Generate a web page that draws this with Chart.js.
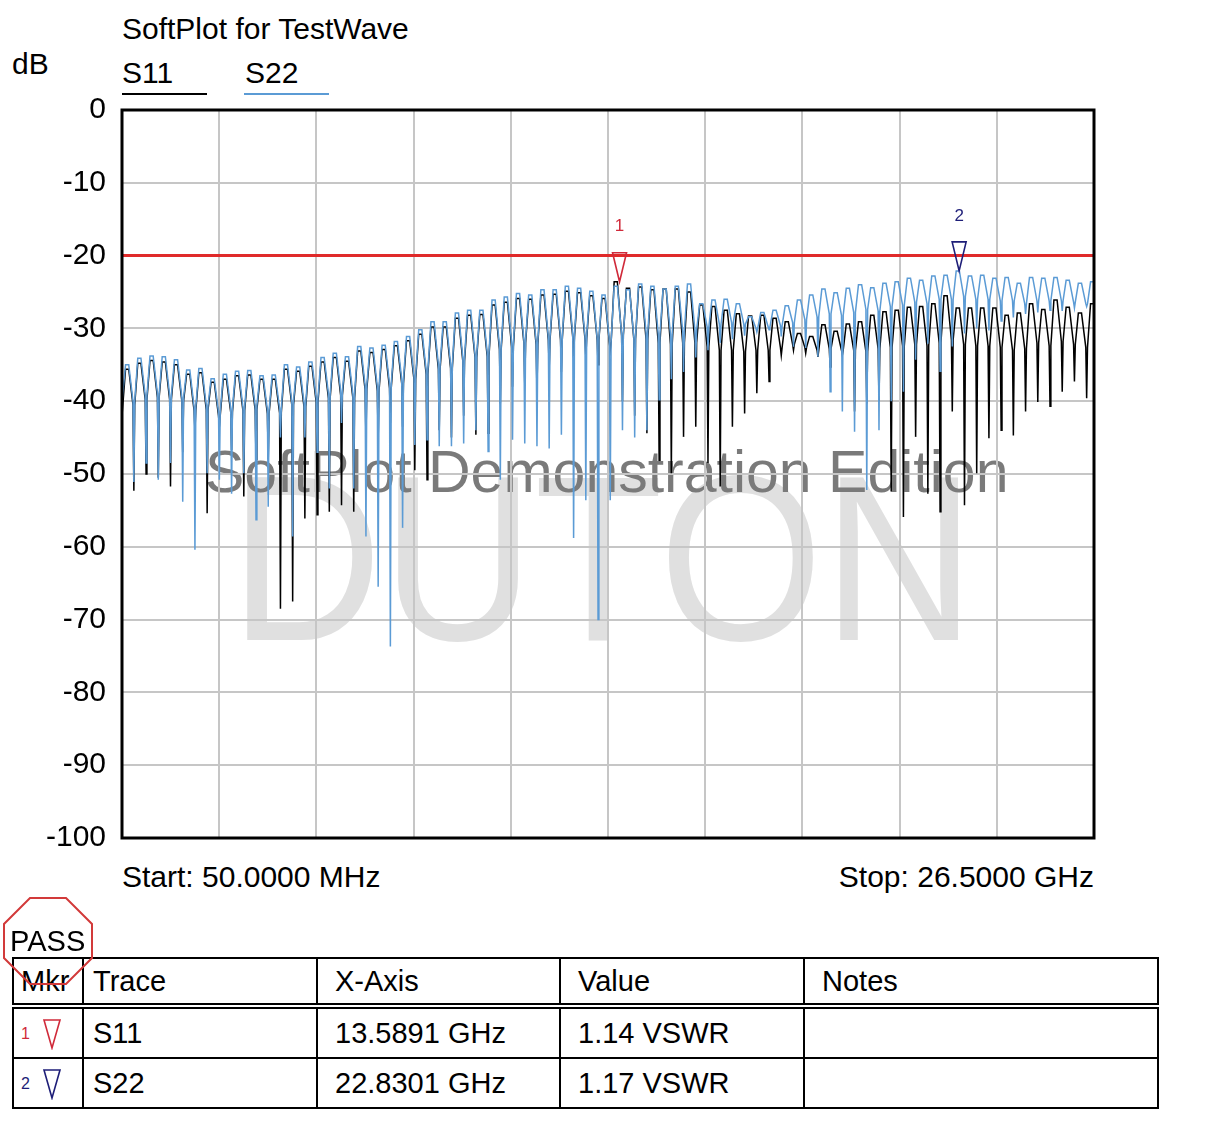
<!DOCTYPE html>
<html>
<head>
<meta charset="utf-8">
<title>SoftPlot for TestWave</title>
<script src="https://cdn.jsdelivr.net/npm/chart.js@4.4.1/dist/chart.umd.min.js"></script>
<style>
  body { margin: 0; background: #fff; font-family: "Liberation Sans", Arial, sans-serif; color: #000; }
  #page { position: relative; width: 1213px; height: 1138px; overflow: hidden; }
  .txt { position: absolute; white-space: nowrap; line-height: 1; font-size: 30px; }
  .wm { position: absolute; white-space: nowrap; line-height: 1; z-index: 0; }
  #chartBox { position: absolute; left: 0; top: 0; width: 1213px; height: 900px; z-index: 1; }
  .uline { position: absolute; height: 2px; }
  #mkrTable { position: absolute; left: 12px; top: 957px; border-collapse: collapse; table-layout: fixed;
              font-size: 29px; z-index: 2; }
  #mkrTable td, #mkrTable th { border: 2px solid #000; font-weight: normal; text-align: left;
              vertical-align: middle; padding: 0 0 0 17px; white-space: nowrap; }
  #mkrTable th { height: 44px; border-bottom: 6px double #000; }
  #mkrTable td { height: 48px; }
  #mkrTable .c0 { padding-left: 7px; }
  #mkrTable .c1 { padding-left: 9px; }
  .mnum { font-size: 16px; vertical-align: middle; }
</style>
</head>
<body>
<div id="page">
  <div class="txt" style="left:122px; top:14px;">SoftPlot for TestWave</div>
  <div class="txt" style="left:12px; top:49px;">dB</div>
  <div class="txt" style="left:122px; top:58px;">S11</div>
  <div class="uline" style="left:122px; top:93px; width:85px; background:#000;"></div>
  <div class="txt" style="left:245px; top:58px;">S22</div>
  <div class="uline" style="left:244px; top:93px; width:85px; background:#5b9bd5;"></div>

  <!-- watermarks sit behind the transparent chart canvas -->
  <div class="wm" id="duton" style="left:230px; top:440px; font-size:236px; color:#e0e0e0;">DUTON</div>
  <div class="wm" style="left:205px; top:443px; font-size:59px; color:#7a7a7a;">SoftPlot Demonstration Edition</div>

  <div id="chartBox"><canvas id="Chart" width="1213" height="900"></canvas></div>

  <div class="txt" style="left:122px; top:862px;">Start: 50.0000 MHz</div>
  <div class="txt" style="right:119px; top:862px;">Stop: 26.5000 GHz</div>

  <svg style="position:absolute; left:0; top:893px; z-index:3;" width="100" height="100">
    <polygon points="30,5 66,5 92,31 92,65 66,91 30,91 4,65 4,31" fill="none" stroke="#d23a3a" stroke-width="2"/>
  </svg>
  <div class="txt" style="left:10px; top:927px; font-size:29px; z-index:4;">PASS</div>

  <table id="mkrTable">
    <colgroup><col style="width:70px"><col style="width:234px"><col style="width:243px"><col style="width:244px"><col style="width:354px"></colgroup>
    <tr><th class="c0">Mkr</th><th class="c1">Trace</th><th>X-Axis</th><th>Value</th><th>Notes</th></tr>
    <tr><td class="c0"><span class="mnum" style="color:#d02a3a;">1</span>
        <svg width="20" height="32" style="vertical-align:middle; margin-left:4px;"><polygon points="2,2 18,2 10,30" fill="none" stroke="#d02a3a" stroke-width="1.6"/></svg></td>
        <td class="c1">S11</td><td>13.5891 GHz</td><td>1.14 VSWR</td><td></td></tr>
    <tr><td class="c0"><span class="mnum" style="color:#1e1e78;">2</span>
        <svg width="20" height="32" style="vertical-align:middle; margin-left:4px;"><polygon points="2,2 18,2 10,30" fill="none" stroke="#1e1e78" stroke-width="1.6"/></svg></td>
        <td class="c1">S22</td><td>22.8301 GHz</td><td>1.17 VSWR</td><td></td></tr>
  </table>
</div>

<script>
/* sweep and axis */
const xStartGHz = 0.05;
const xStopGHz = 26.5;
const yMin = -100;
const yMax = 0;
const yStep = 10;
const limitDb = -20;

/* ripple: position of the first peak and the ripple period */
const firstPeakGHz = 0.19;
const cycleGHz = 0.3324;

/* S11 (black) per ripple cycle: peak, hump bottom, notch bottom (dB) */
const s11Start = -42;
const s11Peak = [
  -35.6, -34.8, -34.4, -34.6, -35.0, -36.3, -36.1, -37.4, -37.0, -36.5,
  -36.4, -37.0, -37.0, -35.6, -35.9, -35.2, -34.6, -34.0, -34.5, -33.1,
  -33.3, -32.9, -32.4, -31.7, -30.8, -29.8, -29.8, -28.6, -28.2, -28.1,
  -26.8, -26.4, -25.9, -26.0, -25.4, -25.3, -24.9, -25.1, -25.5, -25.9,
  -23.6, -24.5, -24.3, -24.7, -24.6, -24.6, -25.0, -26.8, -27.0, -27.5,
  -28.0, -28.3, -28.2, -28.6, -29.1, -30.7, -31.1, -29.5, -30.4, -29.4,
  -29.1, -28.2, -27.7, -27.5, -27.1, -27.0, -26.6, -25.5, -27.2, -27.2,
  -27.2, -27.2, -28.2, -27.9, -26.6, -27.4, -26.1, -27.1, -27.9, -26.6
];
const s11Shoulder = [
  -40.5, -39.8, -39.5, -39.8, -40.0, -41.3, -41.2, -42.0, -41.5, -41.3,
  -41.2, -41.7, -41.6, -40.5, -40.8, -40.2, -39.6, -39.2, -39.6, -38.4,
  -38.6, -38.2, -37.6, -37.0, -36.3, -35.6, -35.5, -34.5, -34.0, -33.9,
  -32.9, -32.5, -32.0, -32.2, -31.6, -31.6, -31.2, -31.4, -31.6, -32.0,
  -31.0, -31.5, -31.5, -32.0, -32.2, -32.0, -32.0, -32.5, -33.0, -33.0,
  -33.2, -33.0, -33.0, -32.6, -32.2, -32.6, -33.0, -32.8, -33.0, -33.0,
  -33.2, -32.8, -32.6, -32.4, -32.2, -32.4, -32.0, -31.6, -32.2, -32.4,
  -32.4, -32.6, -33.0, -32.8, -32.0, -32.4, -31.8, -32.2, -32.6, -32.0
];
const s11Dip = [
  -52.3, -50.0, -50.5, -51.7, -47.0, -44.0, -55.4, -43.5, -46.7, -53.1,
  -48.0, -48.0, -68.5, -67.5, -56.1, -55.6, -55.2, -54.3, -55.2, -45.0,
  -45.3, -43.0, -43.5, -49.5, -50.8, -44.0, -45.0, -42.0, -44.6, -44.4,
  -40.3, -38.0, -37.6, -38.5, -35.5, -36.0, -34.0, -34.0, -35.0, -33.0,
  -40.0, -42.0, -44.4, -48.1, -49.9, -44.9, -43.5, -48.5, -51.7, -43.5,
  -41.7, -38.9, -37.3, -33.7, -33.0, -33.4, -33.9, -35.3, -33.7, -41.4,
  -40.3, -40.0, -52.4, -55.9, -44.9, -52.7, -55.2, -41.4, -54.3, -49.9,
  -45.1, -44.0, -44.7, -41.4, -40.1, -40.7, -38.7, -37.3, -39.6, -38.0
];

/* S22 (blue) per ripple cycle */
const s22Start = -40;
const s22Peak = [
  -35.0, -34.1, -33.8, -33.9, -34.3, -35.7, -35.5, -36.9, -36.3, -35.9,
  -35.8, -36.5, -36.4, -35.0, -35.3, -34.6, -34.0, -33.4, -33.9, -32.5,
  -32.7, -32.3, -31.8, -31.1, -30.2, -29.1, -29.1, -27.9, -27.5, -27.5,
  -26.1, -25.7, -25.2, -25.4, -24.7, -24.7, -24.2, -24.5, -24.9, -25.4,
  -24.2, -24.7, -23.9, -24.2, -24.6, -24.2, -23.9, -26.6, -26.1, -26.0,
  -26.6, -28.4, -27.8, -27.5, -26.9, -26.1, -25.4, -24.6, -25.1, -24.5,
  -24.0, -24.4, -23.8, -23.6, -23.1, -23.4, -22.8, -22.7, -22.1, -22.8,
  -22.7, -23.1, -23.0, -23.8, -23.0, -23.1, -23.0, -23.4, -23.8, -23.6
];
const s22Shoulder = [
  -40.0, -39.2, -39.0, -39.2, -39.5, -40.8, -40.6, -41.5, -41.0, -40.8,
  -40.6, -41.2, -41.0, -40.0, -40.2, -39.6, -39.0, -38.6, -39.0, -37.8,
  -38.0, -37.6, -37.0, -36.5, -35.8, -35.0, -35.0, -34.0, -33.6, -33.4,
  -32.4, -32.0, -31.6, -31.8, -31.2, -31.2, -30.8, -31.0, -31.4, -31.8,
  -30.8, -31.2, -30.6, -30.8, -30.8, -30.4, -30.2, -29.8, -29.4, -29.2,
  -29.4, -30.0, -29.8, -29.6, -29.2, -28.8, -28.4, -28.0, -28.2, -27.8,
  -27.4, -27.6, -27.0, -26.8, -26.4, -26.6, -26.0, -26.0, -25.6, -26.0,
  -26.0, -26.2, -26.2, -26.6, -26.2, -26.2, -26.2, -26.4, -26.6, -26.4
];
const s22Dip = [
  -51.1, -48.5, -50.8, -48.5, -53.8, -60.4, -49.9, -50.8, -52.7, -49.9,
  -56.3, -54.5, -45.0, -58.6, -45.0, -47.0, -52.0, -43.0, -52.0, -58.6,
  -65.5, -73.7, -57.4, -46.0, -45.3, -46.2, -46.2, -45.8, -44.0, -46.9,
  -50.8, -45.3, -45.8, -46.2, -46.5, -44.6, -58.8, -53.6, -70.0, -53.6,
  -44.0, -45.0, -44.0, -39.8, -37.0, -36.0, -34.0, -33.0, -32.0, -31.5,
  -31.0, -30.5, -30.2, -31.1, -32.5, -32.7, -33.9, -38.7, -41.4, -44.2,
  -52.2, -44.0, -40.0, -38.7, -34.3, -32.1, -35.9, -32.5, -30.7, -30.0,
  -30.3, -29.0, -28.5, -28.0, -27.8, -27.5, -27.6, -27.2, -27.0, -26.8
];

/* markers */
const markerNames = ['1', '2'];
const markerGHz = [13.5891, 22.8301];
const markerDb = [-23.6, -22.1];
const markerColors = ['#d02a3a', '#1e1e78'];

const fontFamily = '"Liberation Sans", Arial, sans-serif';

/* squeeze DUTON to the width it has in the picture */
(function () {
    const el = document.getElementById('duton');
    const w = el.getBoundingClientRect().width;
    el.style.transformOrigin = 'left top';
    el.style.transform = 'scaleX(' + (745 / w) + ')';
})();

/* one ripple cycle = broad peak, hump bottom, narrow notch, hump bottom */
function buildTrace(start, peaks, shoulders, dips) {
    let pts = [{x: xStartGHz, y: start}];
    for (let i = 0; i < peaks.length; i++) {
        const f = firstPeakGHz + i * cycleGHz;
        pts.push({x: f - 0.13 * cycleGHz, y: peaks[i]});
        pts.push({x: f + 0.13 * cycleGHz, y: peaks[i]});
        pts.push({x: f + 0.48 * cycleGHz, y: shoulders[i]});
        pts.push({x: f + 0.55 * cycleGHz, y: dips[i]});
        pts.push({x: f + 0.62 * cycleGHz, y: shoulders[i]});
    }
    return pts;
}

const xGrid = [];
for (let k = 0; k <= 10; k++) {
    xGrid.push(xStartGHz + k * (xStopGHz - xStartGHz) / 10);
}

/* frame around the plot and the two markers */
const framePlugin = {
    id: 'frame',
    afterDatasetsDraw(chart) {
        const ctx = chart.ctx;
        const a = chart.chartArea;
        ctx.save();
        ctx.strokeStyle = '#000';
        ctx.lineWidth = 3;
        ctx.strokeRect(a.left, a.top, a.right - a.left, a.bottom - a.top);

        ctx.lineWidth = 1.6;
        ctx.font = '17px ' + fontFamily;
        ctx.textAlign = 'center';
        ctx.textBaseline = 'middle';
        for (let i = 0; i < markerGHz.length; i++) {
            const x = chart.scales.x.getPixelForValue(markerGHz[i]);
            const yTip = chart.scales.y.getPixelForValue(markerDb[i]);
            const yTop = yTip - 29;
            ctx.strokeStyle = markerColors[i];
            ctx.fillStyle = markerColors[i];
            ctx.beginPath();
            ctx.moveTo(x - 7, yTop);
            ctx.lineTo(x + 7, yTop);
            ctx.lineTo(x, yTip);
            ctx.closePath();
            ctx.stroke();
            ctx.fillText(markerNames[i], x, yTop - 26);
        }
        ctx.restore();
    }
};

const ctx = document.getElementById('Chart').getContext('2d');
const myChart = new Chart(ctx, {
    type: 'line',
    data: {
        datasets: [
            {
                label: 'Limit',
                data: [{x: xStartGHz, y: limitDb}, {x: xStopGHz, y: limitDb}],
                borderColor: '#e02a2a',
                borderWidth: 3,
                order: 0
            },
            {
                label: 'S22',
                data: buildTrace(s22Start, s22Peak, s22Shoulder, s22Dip),
                borderColor: '#5b9bd5',
                borderWidth: 1.5,
                order: 1
            },
            {
                label: 'S11',
                data: buildTrace(s11Start, s11Peak, s11Shoulder, s11Dip),
                borderColor: '#000000',
                borderWidth: 1.5,
                order: 2
            }
        ]
    },
    options: {
        responsive: false,
        animation: false,
        elements: {
            point: { radius: 0 },
            line: { tension: 0 }
        },
        layout: {
            padding: { top: 110, right: 119, bottom: 62, left: 0 }
        },
        scales: {
            x: {
                type: 'linear',
                min: xStartGHz,
                max: xStopGHz,
                afterBuildTicks: (scale) => { scale.ticks = xGrid.map(v => ({value: v})); },
                afterFit: (scale) => { scale.height = 0; },
                ticks: { display: false },
                grid: { color: '#c6c6c6', lineWidth: 2, drawTicks: false },
                border: { display: false }
            },
            y: {
                min: yMin,
                max: yMax,
                afterFit: (scale) => { scale.width = 122; },
                ticks: {
                    stepSize: yStep,
                    color: '#000',
                    padding: 16,
                    font: { family: fontFamily, size: 30 }
                },
                grid: { color: '#c6c6c6', lineWidth: 2, drawTicks: false },
                border: { display: false }
            }
        },
        plugins: {
            legend: { display: false },
            tooltip: { enabled: false }
        }
    },
    plugins: [framePlugin]
});
</script>
</body>
</html>
